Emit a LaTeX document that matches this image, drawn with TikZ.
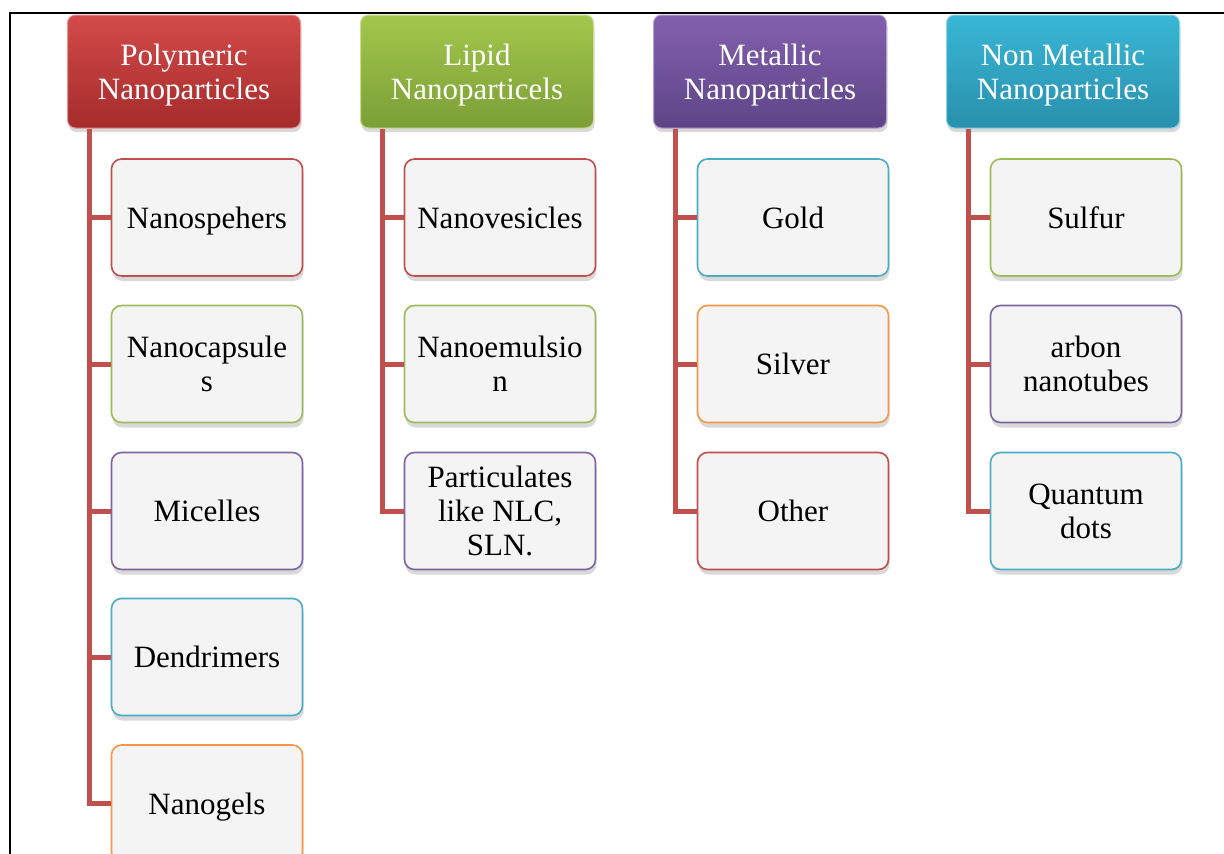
\documentclass[tikz,border=0pt]{standalone}
\usepackage{fontspec}
\setmainfont{Liberation Serif}
\usetikzlibrary{shadows}

\definecolor{accred}{HTML}{C0504D}
\definecolor{accgreen}{HTML}{9BBB59}
\definecolor{accpurple}{HTML}{8064A2}
\definecolor{accblue}{HTML}{4BACC6}
\definecolor{accorange}{HTML}{F79646}
\definecolor{boxgray}{HTML}{F4F4F4}
\definecolor{redtop}{HTML}{D44A4A}
\definecolor{redbot}{HTML}{A52B2B}
\definecolor{greentop}{HTML}{A3C74C}
\definecolor{greenbot}{HTML}{7C9E37}
\definecolor{purpletop}{HTML}{825FAE}
\definecolor{purplebot}{HTML}{5E4587}
\definecolor{bluetop}{HTML}{3AB6D6}
\definecolor{bluebot}{HTML}{2890AC}

\begin{document}
\begin{tikzpicture}[x=1pt,y=-1pt,
  head/.style={rounded corners=8pt, minimum width=233pt, minimum height=113pt,
    align=center, text=white, font=\fontsize{31}{34}\selectfont, text depth=0pt,
    top color=#1top, bottom color=#1bot, draw=#1top!60!white, line width=1pt,
    drop shadow={shadow xshift=1pt, shadow yshift=-4pt, opacity=0.3}},
  item/.style={rounded corners=10pt, minimum width=191pt, minimum height=117pt,
    align=center, font=\fontsize{31}{34}\selectfont, text depth=0pt,
    fill=boxgray, draw=#1, line width=1.6pt,
    drop shadow={shadow xshift=1pt, shadow yshift=-5pt, opacity=0.3}},
  conn/.style={draw=accred, line width=5pt}]
  \useasboundingbox (0,0) rectangle (1224,854);
  \clip (0,0) rectangle (1224,854);
  \draw[line width=1.5pt] (10,13) rectangle (1260,900);

  % headers
  \node[head=red]    (poly) at (184,71.5)  {Polymeric\\Nanoparticles};
  \node[head=green]  (lip)  at (477,71.5)  {Lipid\\Nanoparticels};
  \node[head=purple] (met)  at (770,71.5)  {Metallic\\Nanoparticles};
  \node[head=blue]   (non)  at (1063,71.5) {Non Metallic\\Nanoparticles};

  % polymeric
  \node[item=accred]    (poly1) at (207,217.5) {Nanospehers};
  \node[item=accgreen]  (poly2) at (207,364)   {Nanocapsule\\s};
  \node[item=accpurple] (poly3) at (207,511)   {Micelles};
  \node[item=accblue]   (poly4) at (207,657)   {Dendrimers};
  \node[item=accorange] (poly5) at (207,803.5) {Nanogels};

  % lipid
  \node[item=accred]    (lip1) at (500,217.5) {Nanovesicles};
  \node[item=accgreen]  (lip2) at (500,364)   {Nanoemulsio\\n};
  \node[item=accpurple] (lip3) at (500,511)   {Particulates\\like NLC,\\SLN.};

  % metallic
  \node[item=accblue]   (met1) at (793,217.5) {Gold};
  \node[item=accorange] (met2) at (793,364)   {Silver};
  \node[item=accred]    (met3) at (793,511)   {Other};

  % non metallic
  \node[item=accgreen]  (non1) at (1086,217.5) {Sulfur};
  \node[item=accpurple] (non2) at (1086,364)   {arbon\\nanotubes};
  \node[item=accblue]   (non3) at (1086,511)   {Quantum\\dots};

  % trunks and branches
  \foreach \h/\n in {poly/5,lip/3,met/3,non/3} {
    \coordinate (\h-t) at ([xshift=22pt]\h.south west);
    \draw[conn] (\h-t) |- (\h\n.west);
    \foreach \i in {1,...,\n}
      \draw[conn] (\h-t |- \h\i.west) -- (\h\i.west);
  }
\end{tikzpicture}
\end{document}
